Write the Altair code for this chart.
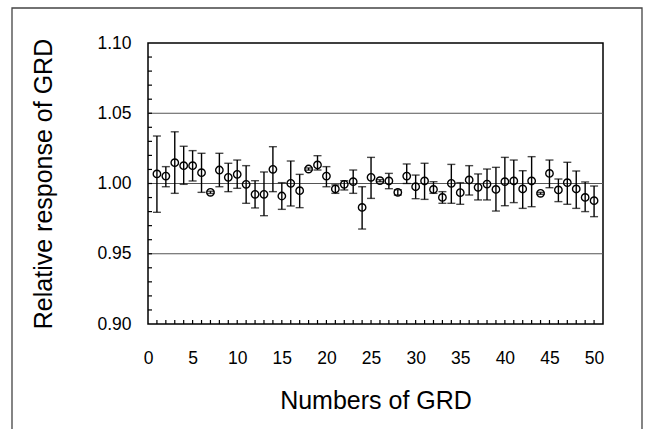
import altair as alt
import pandas as pd

grd = list(range(1, 51))
resp = [1.0068, 1.0053, 1.0148, 1.0127, 1.0127, 1.0077, 0.9937, 1.0096, 1.0044, 1.0065,
        0.9994, 0.9923, 0.9923, 1.0101, 0.9911, 1.0001, 0.9949, 1.0103, 1.0132, 1.0053,
        0.9961, 0.9994, 1.0013, 0.9830, 1.0044, 1.0020, 1.0018, 0.9937, 1.0053, 0.9977,
        1.0018, 0.9958, 0.9901, 1.0001, 0.9935, 1.0025, 0.9973, 0.9996, 0.9958, 1.0013,
        1.0018, 0.9961, 1.0018, 0.9930, 1.0072, 0.9954, 1.0006, 0.9961, 0.9901, 0.9878]
low = [0.9795, 0.9977, 0.9930, 0.9994, 1.0018, 0.9937, 0.9929, 0.9977, 0.9942, 0.9966,
       0.9859, 0.9826, 0.9771, 0.9942, 0.9816, 0.9840, 0.9828, 1.0095, 1.0096, 0.9977,
       0.9930, 0.9954, 0.9930, 0.9676, 0.9894, 1.0013, 0.9963, 0.9918, 1.0000, 0.9892,
       0.9887, 0.9930, 0.9859, 0.9859, 0.9852, 0.9918, 0.9883, 0.9883, 0.9804, 0.9842,
       0.9864, 0.9823, 0.9835, 0.9923, 0.9970, 0.9871, 0.9852, 0.9823, 0.9800, 0.9764]
high = [1.0338, 1.0120, 1.0368, 1.0265, 1.0234, 1.0215, 0.9945, 1.0215, 1.0144, 1.0167,
        1.0127, 1.0020, 1.0082, 1.0262, 1.0006, 1.0160, 1.0065, 1.0111, 1.0198, 1.0120,
        0.9990, 1.0020, 1.0096, 0.9977, 1.0186, 1.0027, 1.0072, 0.9956, 1.0139, 1.0060,
        1.0144, 1.0013, 0.9942, 1.0136, 1.0006, 1.0127, 1.0068, 1.0103, 1.0115, 1.0186,
        1.0167, 1.0091, 1.0191, 0.9937, 1.0167, 1.0032, 1.0151, 1.0089, 1.0011, 0.9982]

grid_vals = [0.95, 1.00, 1.05]
y_minor = [round(0.90 + 0.01 * i, 2) for i in range(1, 20)]
x_minor = list(range(1, 51))
x_labels = list(range(0, 51, 5))
y_labels = [0.90, 0.95, 1.00, 1.05, 1.10]

df = pd.DataFrame({"grd": grd, "resp": resp, "low": low, "high": high})

FONT = "Liberation Sans"
W, H = 455, 281

xs = alt.Scale(domain=[0, 51], nice=False)
ys = alt.Scale(domain=[0.90, 1.10], nice=False)

base = alt.Chart(df)

xaxis = alt.Axis(values=x_labels, tickSize=0, domain=False, grid=False, labelFlush=False,
                 labelFontSize=17.5, labelFont=FONT, labelColor="black", labelPadding=25,
                 title="Numbers of GRD", titleFontSize=25, titleFont=FONT,
                 titleFontWeight="normal", titleColor="black", titlePadding=22)
yaxis = alt.Axis(values=y_labels, format=".2f", tickSize=0, domain=False, grid=False,
                 labelFlush=False,
                 labelFontSize=17.5, labelFont=FONT, labelColor="black", labelPadding=17,
                 title="Relative response of GRD", titleFontSize=25, titleFont=FONT,
                 titleFontWeight="normal", titleColor="black", titlePadding=40)

grid = alt.Chart(pd.DataFrame({"g": grid_vals})).mark_rule(
    color="#555555", strokeWidth=1).encode(
    y=alt.Y("g:Q", scale=ys, axis=yaxis))

ytick = alt.Chart(pd.DataFrame({"t": y_minor})).mark_rule(
    color="black", strokeWidth=1.2).encode(
    y=alt.Y("t:Q", scale=ys), x=alt.value(0), x2=alt.value(4))

xtick = alt.Chart(pd.DataFrame({"t": x_minor})).mark_rule(
    color="black", strokeWidth=1.2).encode(
    x=alt.X("t:Q", scale=xs, axis=xaxis), y=alt.value(H), y2=alt.value(H - 4))

bars = base.mark_rule(color="black", strokeWidth=1.4).encode(
    x=alt.X("grd:Q", scale=xs), y=alt.Y("low:Q", scale=ys), y2="high:Q")
cap_lo = base.mark_tick(color="black", thickness=1.4, size=8, orient="horizontal").encode(
    x=alt.X("grd:Q", scale=xs), y=alt.Y("low:Q", scale=ys))
cap_hi = base.mark_tick(color="black", thickness=1.4, size=8, orient="horizontal").encode(
    x=alt.X("grd:Q", scale=xs), y=alt.Y("high:Q", scale=ys))
pts = base.mark_point(shape="circle", size=55, filled=False, color="black",
                      strokeWidth=1.4, opacity=1).encode(
    x=alt.X("grd:Q", scale=xs), y=alt.Y("resp:Q", scale=ys))

frame = alt.Chart(pd.DataFrame({"a": [0]})).mark_rect(
    filled=False, stroke="#444444", strokeWidth=1.3, clip=False).encode(
    x=alt.value(12 - 148), x2=alt.value(642 - 148),
    y=alt.value(8 - 43), y2=alt.value(440 - 43))

chart = alt.layer(grid, ytick, xtick, bars, cap_lo, cap_hi, pts, frame).properties(
    width=W, height=H,
    autosize=alt.AutoSizeParams(type="none"),
    padding={"left": 148, "top": 43, "right": 46, "bottom": 105},
).configure(
    background="white",
    view=alt.ViewConfig(stroke="black", strokeWidth=1.5),
)

chart.save("out.html", embed_options={"renderer": "svg", "actions": False})
